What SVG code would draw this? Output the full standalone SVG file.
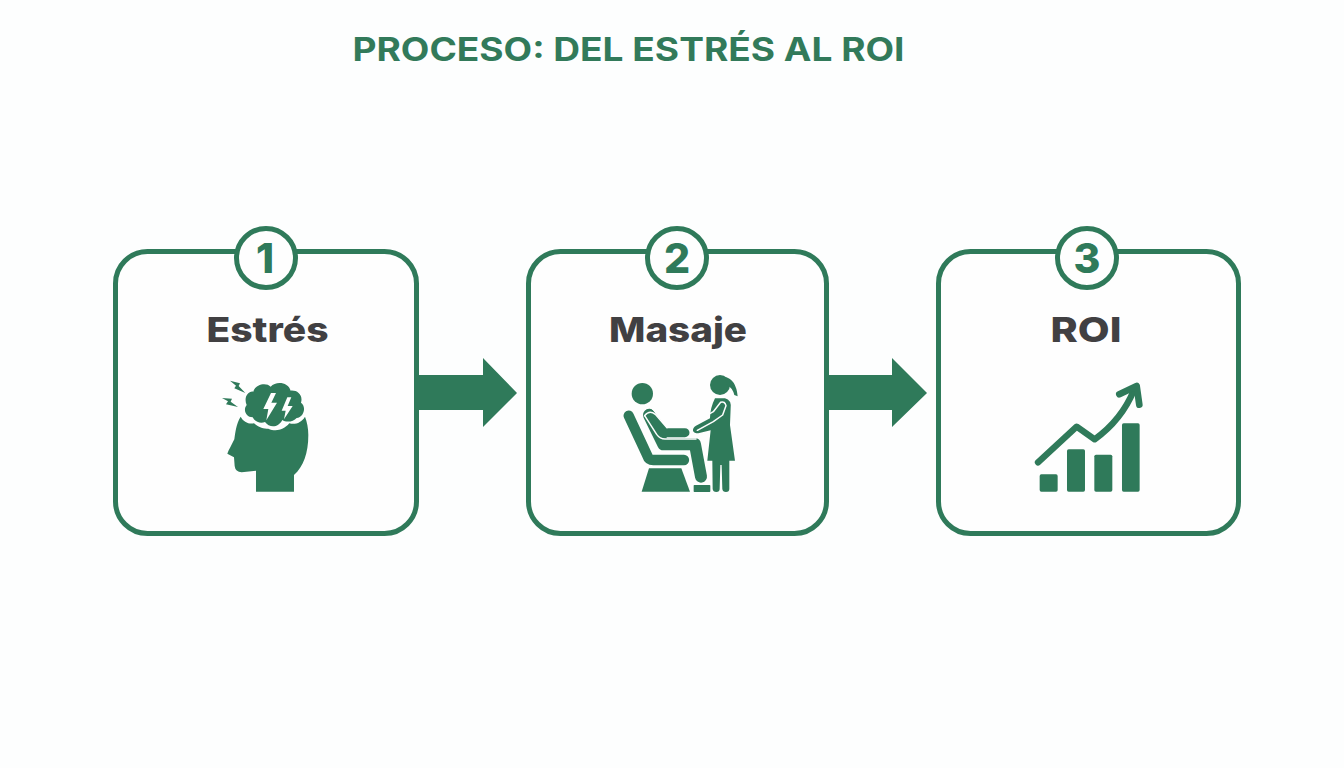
<svg xmlns="http://www.w3.org/2000/svg" width="1344" height="768" viewBox="0 0 1344 768">
<style>
.card{fill:#fefefe;stroke:#2f7a5a;stroke-width:5}
.badge{fill:#fefefe;stroke:#2f7a5a;stroke-width:5}
.num{font-family:Inter,"Liberation Sans",sans-serif;font-weight:800;font-size:41px;fill:#2f7a5a;text-anchor:middle}
.lab{font-family:Inter,"Liberation Sans",sans-serif;font-weight:800;font-size:34px;fill:#414042;text-anchor:middle}
.g{fill:#2f7a5a}
.w{fill:#fefefe}
.l{fill:none;stroke:#2f7a5a;stroke-linecap:round;stroke-linejoin:round}
.wl{fill:none;stroke:#fefefe;stroke-width:4.5;stroke-linecap:round;stroke-linejoin:round}
</style>
<rect width="1344" height="768" fill="#fdfefe"/>
<text x="628.5" y="61" font-family="Inter,'Liberation Sans',sans-serif" font-weight="700" font-size="32" fill="#327a5a" text-anchor="middle" textLength="552" lengthAdjust="spacingAndGlyphs">PROCESO: DEL ESTRÉS AL ROI</text>
<g id="connectors">
<path class="g" d="M416,375H483V358L517,393L483,427V410H416Z"/>
<path class="g" d="M827,375H892V358L927,393L892,427V410H827Z"/>
</g>
<g id="node-1">
<rect class="card" x="115.5" y="251.5" width="301" height="282" rx="32"/>
<circle class="badge" cx="266" cy="258" r="29.5"/>
<text class="num" x="265" y="273">1</text>
<text class="lab" x="267.5" y="342" textLength="122" lengthAdjust="spacingAndGlyphs">Estrés</text>
<g transform="translate(200 360) scale(.3333)">
<path class="g" d="M122,170C108,192 106,220 103,238C95,255 86,270 82,281L102,292L104,318Q106,336 125,337L168,332V395H282V345C310,320 325,280 325,225C325,205 321,185 315,170C305,188 285,195 268,190C250,212 225,215 205,206C190,208 172,200 162,190C145,193 130,185 122,170Z"/>
<path class="g" d="M158,172C138,172 128,150 140,135C130,112 145,92 160,95C165,72 200,66 212,80C228,62 265,66 272,92C292,90 310,105 303,128C320,140 312,172 290,174C280,186 258,188 247,180C235,204 208,204 195,186C182,192 165,186 158,172Z"/>
<path class="w" d="M213,99L190,147H205L199,181L231,128H214L228,99Z"/>
<path class="w" d="M262,112L245,152H257L252,178L278,138H263L274,112Z"/>
<path class="g" d="M90,62L120,70L116,78L136,99L103,85L108,77Z"/>
<path class="g" d="M66,114L96,116L92,125L114,141L78,133L84,124Z"/>
</g>
</g>
<g id="node-2">
<rect class="card" x="528.5" y="251.5" width="298" height="282" rx="32"/>
<circle class="badge" cx="677" cy="258" r="29.5"/>
<text class="num" x="677" y="273">2</text>
<text class="lab" x="678" y="342" textLength="138" lengthAdjust="spacingAndGlyphs">Masaje</text>
<g transform="translate(600 365) scale(.3333)">
<circle class="g" cx="127" cy="86" r="32"/>
<path class="l" stroke-width="31" d="M86,152L142,272Q146,285 160,285H252"/>
<path class="g" d="M147,310H244L270,380H125Z"/>
<rect class="g" x="281" y="360" width="50" height="21" rx="2"/>
<path class="l" stroke-width="36" d="M147,150L190,238H285L303,335"/>
<path class="l" stroke-width="27" d="M148,145L195,203H255"/>
<path class="wl" d="M134,152Q148,134 166,148L201,188"/>
<path class="wl" d="M134,152L170,208Q180,222 195,222H288"/>
<circle class="g" cx="360" cy="60" r="30"/>
<path class="g" d="M375,36Q408,42 413,94L403,90Q398,68 382,62Z"/>
<path class="g" d="M345,100H375Q395,105 392,130L390,180L405,287H388L388,372Q388,381 378,381Q368,381 367,372L365,300H361L359,372Q359,381 349,381Q339,381 338,372L337,287H322L332,196L295,205Q282,205 279,197Q278,188 288,182L330,160Q330,130 345,100Z"/>
<path class="wl" d="M284,172L340,140L362,112Q375,108 378,122L368,150L340,170L292,196"/>
</g>
</g>
<g id="node-3">
<rect class="card" x="938.5" y="251.5" width="300" height="282" rx="32"/>
<circle class="badge" cx="1087" cy="258" r="29.5"/>
<text class="num" x="1087" y="273">3</text>
<text class="lab" x="1086" y="342" textLength="71" lengthAdjust="spacingAndGlyphs">ROI</text>
<g transform="translate(1020 370) scale(.3333)">
<rect class="g" x="59" y="313" width="54" height="52" rx="5"/>
<rect class="g" x="141" y="238" width="54" height="127" rx="5"/>
<rect class="g" x="223" y="254" width="54" height="111" rx="5"/>
<rect class="g" x="306" y="160" width="53" height="205" rx="5"/>
<path class="l" stroke-width="19" d="M54,277L170,170L224,208C270,175 315,125 342,60"/>
<path class="l" stroke-width="20" d="M298,73L350,48L358,104"/>
</g>
</g>
</svg>
